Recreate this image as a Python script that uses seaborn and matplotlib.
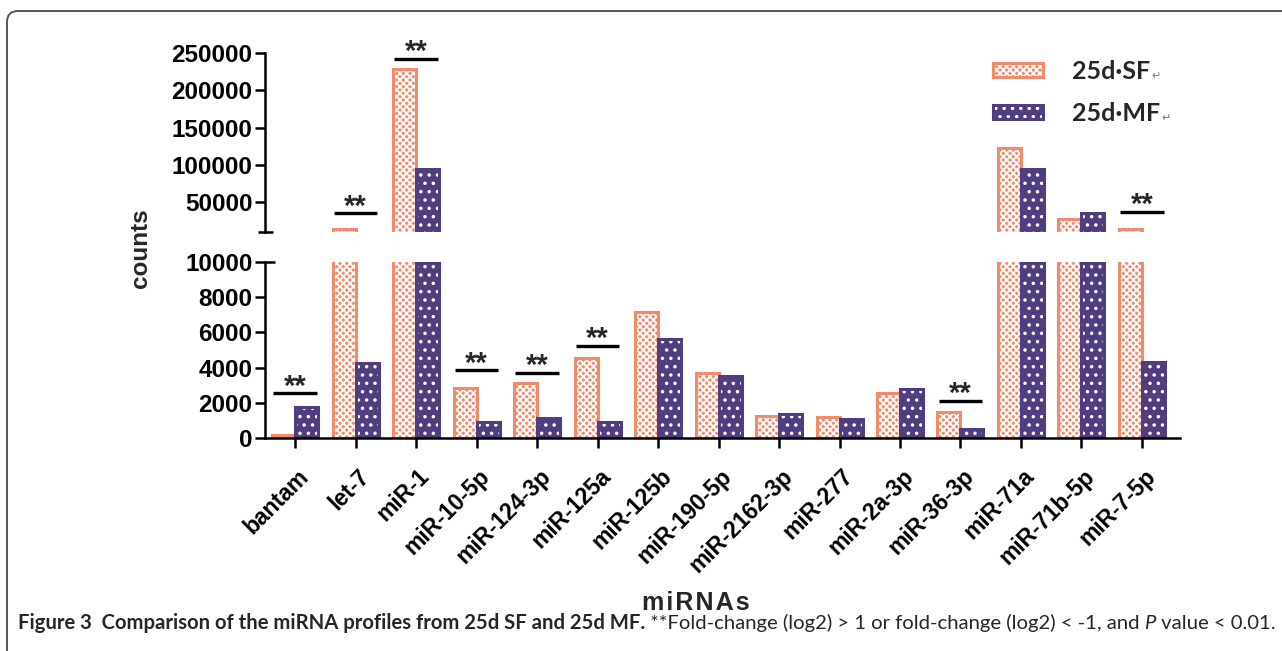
import numpy as np
import pandas as pd
import matplotlib
matplotlib.use("Agg")
import matplotlib.pyplot as plt
import matplotlib.transforms as mtransforms
from matplotlib import font_manager
from matplotlib.patches import Rectangle, Patch, FancyBboxPatch
import seaborn as sns

# ---------------- data ----------------
mirnas = ["bantam", "let-7", "miR-1", "miR-10-5p", "miR-124-3p", "miR-125a",
          "miR-125b", "miR-190-5p", "miR-2162-3p", "miR-277", "miR-2a-3p",
          "miR-36-3p", "miR-71a", "miR-71b-5p", "miR-7-5p"]
sf_counts = [200, 13500, 229000, 2830, 3120, 4530, 7170, 3720, 1280, 1190,
             2550, 1510, 122000, 27000, 13500]
mf_counts = [1780, 4280, 95000, 910, 1170, 940, 5600, 3530, 1360, 1090,
             2790, 510, 94000, 34500, 4340]
groups = ["25d·SF", "25d·MF"]
colors = ["#F28B6C", "#4F3D80"]
hatches = ["xxxxx", ".."]

sig_index = [0, 1, 2, 3, 4, 5, 11, 14]
sig_level = [2550, 35000, 243000, 3850, 3720, 5250, 2110, 37000]

lower_ticks = [0, 2000, 4000, 6000, 8000, 10000]
upper_ticks = [50000, 100000, 150000, 200000, 250000]
axis_break = 10000
upper_top = 250000

# ---------------- style ----------------
sns.set_theme(style="ticks")
plt.rcParams["font.family"] = ["Liberation Sans", "DejaVu Sans"]
plt.rcParams["hatch.linewidth"] = 1.3


def have(name):
    try:
        font_manager.findfont(font_manager.FontProperties(family=name),
                              fallback_to_default=False)
        return True
    except Exception:
        return False


cap_family = ["Liberation Sans Narrow"] if have("Liberation Sans Narrow") else ["Lato"]
cap_family = cap_family + ["DejaVu Sans"]

df = pd.DataFrame({
    "miRNA": mirnas * 2,
    "group": [groups[0]] * len(mirnas) + [groups[1]] * len(mirnas),
    "counts": sf_counts + mf_counts,
})

W, H = 1282, 651
fig = plt.figure(figsize=(W / 100, H / 100), dpi=100)
fig.patch.set_facecolor("white")


def fx(px):
    return px / W


def fy(py):
    return 1 - py / H


left, right = 265, 1180
ax_lo = fig.add_axes([fx(left), fy(438.3), fx(right) - fx(left), fy(261.7) - fy(438.3)])
ax_hi = fig.add_axes([fx(left), fy(231.7), fx(right) - fx(left), fy(53.3) - fy(231.7)])

spine_lw = 1.8
for ax in (ax_lo, ax_hi):
    sns.barplot(data=df, x="miRNA", y="counts", hue="group", hue_order=groups,
                palette=colors, width=0.76, saturation=1, errorbar=None,
                legend=False, ax=ax)
    for ci, cont in enumerate(ax.containers):
        for bar in cont:
            bar.set_hatch(hatches[ci])
            bar.set_edgecolor("white")
            bar.set_linewidth(0)
            ax.add_patch(Rectangle(bar.get_xy(), bar.get_width(), bar.get_height(),
                                   fill=False, edgecolor=colors[ci], lw=2.2,
                                   zorder=bar.get_zorder() + 0.1))
    ax.set_xlim(-0.5, 14.63)
    ax.set_xlabel("")
    ax.set_ylabel("")
    ax.set_facecolor("none")
    for s in ax.spines.values():
        s.set_linewidth(spine_lw)
        s.set_color("black")
    ax.spines["top"].set_visible(False)
    ax.spines["right"].set_visible(False)
    ax.tick_params(axis="both", direction="out", length=7, width=spine_lw,
                   colors="black", labelsize=17.5, pad=2)

ax_lo.set_ylim(0, axis_break)
ax_hi.set_ylim(axis_break, upper_top)
ax_hi.spines["bottom"].set_visible(False)
ax_hi.tick_params(axis="x", bottom=False, labelbottom=False)

ax_lo.set_yticks(lower_ticks)
ax_lo.set_yticklabels([str(v) for v in lower_ticks], fontweight="bold")
ax_hi.set_yticks(upper_ticks)
ax_hi.set_yticklabels([str(v) for v in upper_ticks], fontweight="bold")

ax_lo.set_xticks(range(len(mirnas)))
ax_lo.set_xticklabels(mirnas, rotation=45, ha="right", va="center",
                      rotation_mode="anchor", fontweight="bold", fontsize=16.5)
ax_lo.tick_params(axis="x", pad=18)
shift = mtransforms.ScaledTranslation(10 / 100, 0, fig.dpi_scale_trans)
for lbl in ax_lo.get_xticklabels():
    lbl.set_transform(lbl.get_transform() + shift)

# break marks
tr_hi = mtransforms.blended_transform_factory(ax_hi.transAxes, ax_hi.transData)
ax_hi.plot([-0.0077, 0.0087], [axis_break, axis_break], transform=tr_hi,
           color="black", lw=spine_lw, clip_on=False, solid_capstyle="butt")
tr_lo = mtransforms.blended_transform_factory(ax_lo.transAxes, ax_lo.transData)
ax_lo.plot([0, 0.011], [axis_break, axis_break], transform=tr_lo,
           color="black", lw=spine_lw, clip_on=False, solid_capstyle="butt")

# significance marks
for i, lvl in zip(sig_index, sig_level):
    ax = ax_hi if lvl > axis_break else ax_lo
    ax.plot([i - 0.36, i + 0.36], [lvl, lvl], color="black", lw=2.4,
            clip_on=False, solid_capstyle="butt")
    ax.annotate("**", (i, lvl), xytext=(0, -1), textcoords="offset points",
                ha="center", va="baseline", fontsize=21, fontweight="bold",
                annotation_clip=False)

# axis titles
fig.text(fx(140), fy(248), "counts", rotation=90, ha="center", va="center",
         fontsize=17.5, fontweight="bold")
fig.text(fx(696), fy(603), "m i R N A s".replace(" ", "\u200a"), ha="center", va="center",
         fontsize=18, fontweight="bold")

# legend
handles = [(Patch(facecolor=c, edgecolor="white", hatch=h, lw=0),
            Patch(facecolor="none", edgecolor=c, lw=2.2))
           for c, h in zip(colors, hatches)]
leg = fig.legend(handles, groups, loc="upper left",
                 bbox_to_anchor=(fx(993), fy(60)), frameon=False, borderpad=0,
                 borderaxespad=0,
                 prop=dict(family=["Lato", "DejaVu Sans"], weight="bold", size=18),
                 handlelength=2.0, handleheight=0.5, handletextpad=1.15,
                 labelspacing=0.75)

# frame around the figure
frame = FancyBboxPatch((7, -30), W + 40, H - 11 + 30, boxstyle="round,pad=0,rounding_size=11",
                       transform=None, fill=False, edgecolor="#555555", lw=1.4)
fig.add_artist(frame)

fig.canvas.draw()
renderer = fig.canvas.get_renderer()
for t in leg.get_texts():
    bb = t.get_window_extent(renderer)
    fig.text(bb.x1 / W + 0.001, bb.y0 / H + 0.006, "↵", fontsize=8,
             color="#777777", family=["DejaVu Sans"])

# caption
pieces = [("Figure 3  Comparison of the miRNA profiles from 25d SF and 25d MF.", "bold", "normal"),
          (" **Fold-change (log2) > 1 or fold-change (log2) < -1, and ", "normal", "normal"),
          ("P", "normal", "italic"),
          (" value < 0.01.", "normal", "normal")]


def place(size):
    arts = []
    x = 18
    for txt, wt, st in pieces:
        t = fig.text(x / W, fy(629), txt, fontsize=size, fontweight=wt, fontstyle=st,
                     family=cap_family, va="baseline", ha="left")
        fig.canvas.draw()
        x = t.get_window_extent(fig.canvas.get_renderer()).x1
        arts.append(t)
    return arts, x


size = 12
for _ in range(4):
    arts, xend = place(size)
    if abs(xend - 1274) < 3:
        break
    size = size * (1274 - 18) / (xend - 18)
    for a in arts:
        a.remove()

fig.savefig("out.png", dpi=100)
